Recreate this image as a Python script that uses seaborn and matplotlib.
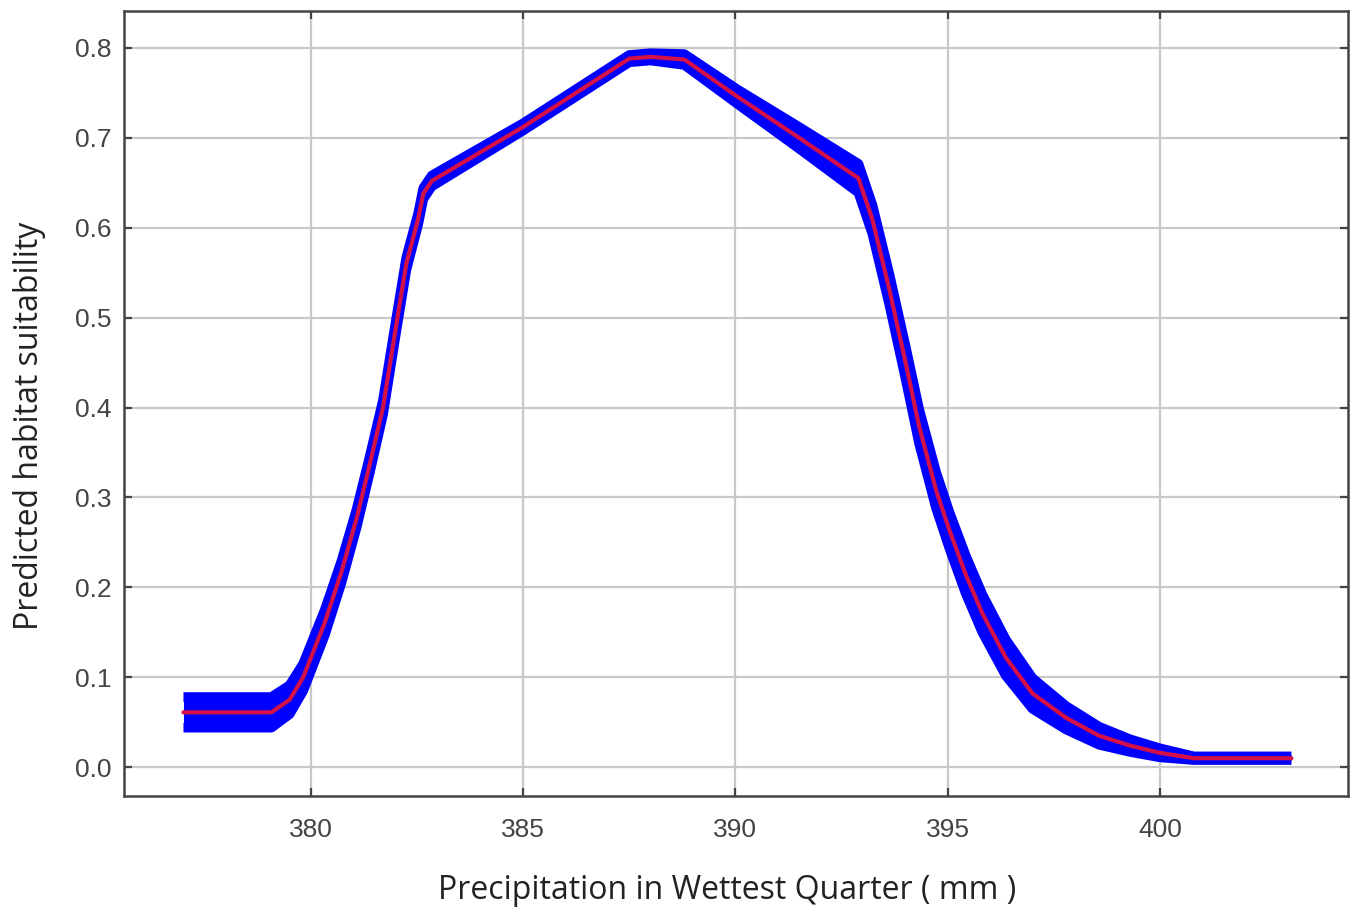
import numpy as np
import pandas as pd
import seaborn as sns
import matplotlib.pyplot as plt

# response curve: mean and +/- sd
precip = [377.0, 379.07, 379.5, 379.82, 380.33, 380.72, 381.08, 381.39, 381.70, 382.02,
          382.25, 382.53, 382.65, 382.85, 385.0, 387.5, 388.0, 388.8, 390.04, 391.5,
          392.9, 393.23, 393.63, 394.02, 394.33, 394.73, 395.04, 395.43, 395.82, 396.37,
          397.0, 397.79, 398.57, 399.3, 400.0, 400.8, 402.0, 403.1]
mean_suit = [0.061, 0.061, 0.075, 0.100, 0.161, 0.217, 0.277, 0.337, 0.400, 0.494,
             0.560, 0.610, 0.638, 0.652, 0.712, 0.788, 0.790, 0.787, 0.746, 0.700,
             0.655, 0.609, 0.531, 0.448, 0.379, 0.308, 0.264, 0.214, 0.171, 0.122,
             0.082, 0.055, 0.035, 0.024, 0.016, 0.010, 0.010, 0.010]
sd_suit = [0.017, 0.017, 0.016, 0.015, 0.014, 0.012, 0.010, 0.009, 0.008, 0.007,
           0.007, 0.006, 0.006, 0.006, 0.004, 0.004, 0.004, 0.006, 0.008, 0.012,
           0.016, 0.016, 0.017, 0.018, 0.019, 0.020, 0.020, 0.021, 0.021, 0.020,
           0.017, 0.013, 0.010, 0.007, 0.005, 0.002, 0.002, 0.002]

df = pd.DataFrame({"x": precip, "mean": mean_suit, "sd": sd_suit})
df["lo"] = df["mean"] - df["sd"]
df["hi"] = df["mean"] + df["sd"]

sns.set_style("white")
plt.rcParams['font.family'] = ['Liberation Sans', 'DejaVu Sans']

fig = plt.figure(figsize=(13.6, 9.07), dpi=100)
ax = fig.add_axes([0.0912, 0.1224, 0.8999, 0.8655])

# blue band of +/- sd, drawn with thick edges so steep parts stay visible
ax.fill_between(df["x"], df["lo"], df["hi"], color="#0000ff", lw=0, zorder=2)
sns.lineplot(x="x", y="lo", data=df, ax=ax, color="#0000ff", lw=7,
             solid_capstyle="butt", solid_joinstyle="round", zorder=2)
sns.lineplot(x="x", y="hi", data=df, ax=ax, color="#0000ff", lw=7,
             solid_capstyle="butt", solid_joinstyle="round", zorder=2)
sns.lineplot(x="x", y="mean", data=df, ax=ax, color="#d41048", lw=3,
             solid_joinstyle="round", zorder=3)

ax.set_xlim(375.6, 404.43)
ax.set_ylim(-0.032, 0.841)
ax.set_xticks([380, 385, 390, 395, 400])
ax.set_yticks(np.round(np.arange(0, 0.81, 0.1), 1))
ax.set_yticklabels([f"{v:.1f}" for v in np.arange(0, 0.81, 0.1)])

ax.grid(True, color="#c8c8c8", lw=1.6)
ax.set_axisbelow(True)
for s in ax.spines.values():
    s.set_color("#444444")
    s.set_linewidth(1.8)

ax.tick_params(axis="both", direction="in", length=6, width=1.6, color="#444444",
               labelsize=19, labelcolor="#444444",
               top=True, right=True, bottom=True, left=True)
ax.tick_params(axis="x", pad=16)
ax.tick_params(axis="y", pad=9)

lab_font = dict(fontsize=23, color="#222222", family=["Open Sans", "DejaVu Sans"])
ax.set_xlabel("Precipitation in Wettest Quarter ( mm )", **lab_font)
ax.set_ylabel("Predicted habitat suitability", **lab_font)
ax.xaxis.set_label_coords(0.493, -0.099)
ax.yaxis.set_label_coords(-0.064, 0.471)

fig.savefig("out.png", dpi=100)
plt.close()
